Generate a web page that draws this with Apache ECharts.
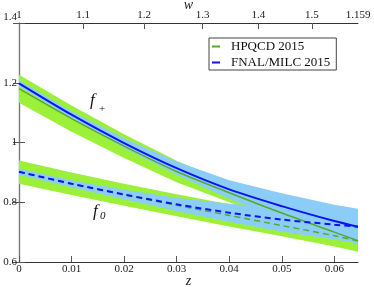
<!DOCTYPE html>
<html><head><meta charset="utf-8">
<script src="https://cdn.jsdelivr.net/npm/echarts@6/dist/echarts.min.js"></script>
<style>html,body{margin:0;padding:0;background:#fff}#c{width:374px;height:287px}</style>
</head><body><div id="c"></div>
<script>
// z grid points
var zVals = [0, 0.01, 0.02, 0.03, 0.04, 0.05, 0.06, 0.0645];
// HPQCD 2015 f+
var hpFpCenter = [1.180, 1.080, 0.988, 0.903, 0.832, 0.764, 0.700, 0.671];
var hpFpUpper  = [1.227, 1.124, 1.028, 0.939, 0.864, 0.792, 0.724, 0.693];
var hpFpLower  = [1.133, 1.036, 0.948, 0.867, 0.800, 0.736, 0.676, 0.649];
// HPQCD 2015 f0
var hpF0Center = [0.901, 0.862, 0.825, 0.790, 0.756, 0.722, 0.688, 0.670];
var hpF0Upper  = [0.940, 0.900, 0.862, 0.827, 0.793, 0.758, 0.724, 0.706];
var hpF0Lower  = [0.862, 0.824, 0.788, 0.753, 0.719, 0.686, 0.652, 0.634];
// FNAL/MILC 2015 f+
var fnFpCenter = [1.198, 1.093, 0.998, 0.914, 0.843, 0.787, 0.737, 0.718];
var fnFpUpper  = [1.208, 1.105, 1.014, 0.936, 0.874, 0.830, 0.792, 0.778];
var fnFpLower  = [1.188, 1.081, 0.982, 0.892, 0.812, 0.746, 0.684, 0.662];
// FNAL/MILC 2015 f0
var fnF0Center = [0.902, 0.862, 0.826, 0.793, 0.765, 0.742, 0.725, 0.718];
var fnF0Upper  = [0.912, 0.874, 0.842, 0.815, 0.795, 0.782, 0.775, 0.774];
var fnF0Lower  = [0.892, 0.850, 0.810, 0.771, 0.735, 0.702, 0.675, 0.662];

// axis ticks
var zTicks = [0, 0.01, 0.02, 0.03, 0.04, 0.05, 0.06];
var yTicks = [0.6, 0.8, 1.0, 1.2, 1.4];
var wTicks = [1, 1.1, 1.2, 1.3, 1.4, 1.5, 1.59];
var wLabels = ['1', '1.1', '1.2', '1.3', '1.4', '1.5', '1.159'];
var zMax = 0.0645;

function wToZ(w) { var a = Math.sqrt(w + 1), b = Math.SQRT2; return (a - b) / (a + b); }
var wPos = wTicks.map(function (w, i) { return i === wTicks.length - 1 ? zMax : +wToZ(w).toFixed(6); });

function pairs(ys) { return zVals.map(function (z, i) { return [z, ys[i]]; }); }

var GREEN_BAND = '#9cf03a', BLUE_BAND = '#8ccdf7', GREEN_LINE = '#52ab2c', BLUE_LINE = '#0a14f0';
var serif = '"Liberation Serif", "DejaVu Serif", serif';

function band(id, up, lo, color) {
  return {
    name: id, type: 'custom', coordinateSystem: 'cartesian2d', silent: true, z: 1,
    data: [[0, lo[0]]],
    renderItem: function (params, api) {
      var pts = [];
      for (var i = 0; i < zVals.length; i++) pts.push(api.coord([zVals[i], up[i]]));
      for (var j = zVals.length - 1; j >= 0; j--) pts.push(api.coord([zVals[j], lo[j]]));
      return { type: 'polygon', shape: { points: pts }, style: { fill: color, stroke: null } };
    }
  };
}
function line(name, ys, color, width, dashed) {
  return { name: name, type: 'line', data: pairs(ys), symbol: 'none', smooth: 0.3, color: color,
    lineStyle: { color: color, width: width, type: dashed ? [6, 4] : 'solid' }, z: 3 };
}

var series = [
  band('gfp', hpFpUpper, hpFpLower, GREEN_BAND),
  band('gf0', hpF0Upper, hpF0Lower, GREEN_BAND),
  band('bfp', fnFpUpper, fnFpLower, BLUE_BAND),
  band('bf0', fnF0Upper, fnF0Lower, BLUE_BAND),
  line('HPQCD 2015', hpFpCenter, GREEN_LINE, 1.5, false),
  line('HPQCD f0', hpF0Center, GREEN_LINE, 1.5, true),
  line('FNAL/MILC 2015', fnFpCenter, BLUE_LINE, 2, false),
  line('FNAL f0', fnF0Center, BLUE_LINE, 2, true)
];

var axisLine = { show: true, lineStyle: { color: '#333', width: 1 } };
var sideLine = { show: true, lineStyle: { color: '#777', width: 1.2 } };
var labelStyle = { fontFamily: serif, fontSize: 11, color: '#222' };
var nameStyle = { fontFamily: serif, fontStyle: 'italic', fontSize: 14, color: '#222', verticalAlign: 'middle' };

var chart = echarts.init(document.getElementById('c'), null, { renderer: 'canvas' });
chart.setOption({
  animation: false,
  backgroundColor: '#fff',
  grid: { left: 19, right: 16, top: 23, bottom: 25, outerBoundsMode: 'none', containLabel: false },
  legend: {
    data: [{ name: 'HPQCD 2015', itemStyle: { color: GREEN_LINE } }, { name: 'FNAL/MILC 2015', itemStyle: { color: BLUE_LINE } }],
    orient: 'vertical', left: 209, top: 38, icon: 'rect', itemWidth: 8, itemHeight: 2, itemGap: 3,
    padding: [2, 6, 1, 3], borderColor: '#444', borderWidth: 1, backgroundColor: '#fff',
    textStyle: { fontFamily: serif, fontSize: 13, color: '#111', padding: [0, 0, 0, 6] }
  },
  xAxis: [
    { type: 'value', position: 'bottom', min: 0, max: zMax,
      axisLine: axisLine, splitLine: { show: false },
      axisTick: { inside: true, length: 6, customValues: zTicks, lineStyle: { color: '#555' } },
      axisLabel: Object.assign({ customValues: zTicks, margin: 2, formatter: function (v) { return String(+v.toFixed(2)); } }, labelStyle),
      name: 'z', nameLocation: 'middle', nameGap: 19, nameMoveOverlap: false, nameTextStyle: nameStyle },
    { type: 'value', position: 'top', min: 0, max: zMax,
      axisLine: axisLine, splitLine: { show: false },
      axisTick: { inside: true, length: 6, customValues: wPos.slice(1, 6), lineStyle: { color: '#555' } },
      axisLabel: Object.assign({ customValues: wPos, margin: 2, formatter: function (v) {
        var best = 0; for (var i = 0; i < wPos.length; i++) { if (Math.abs(wPos[i] - v) < Math.abs(wPos[best] - v)) best = i; } return wLabels[best]; } }, labelStyle),
      name: 'w', nameLocation: 'middle', nameGap: 18, nameMoveOverlap: false, nameTextStyle: nameStyle }
  ],
  yAxis: [
    { type: 'value', position: 'left', min: 0.6, max: 1.4, interval: 0.2,
      axisLine: sideLine, splitLine: { show: false },
      axisTick: { inside: true, length: 6, lineStyle: { color: '#555' } },
      axisLabel: Object.assign({ margin: 2, hideOverlap: false, verticalAlignMaxLabel: 'bottom', formatter: function (v) { return String(+v.toFixed(1)); } }, labelStyle) },
    { type: 'value', position: 'right', min: 0.6, max: 1.4, interval: 0.2,
      axisLine: sideLine, splitLine: { show: false },
      axisTick: { inside: true, length: 6, lineStyle: { color: '#555' } },
      axisLabel: { show: false } }
  ],
  graphic: [
    { type: 'text', left: 90, top: 92, style: { text: 'f', font: 'italic 17px ' + serif, fill: '#111' } },
    { type: 'text', left: 99, top: 104, style: { text: '+', font: '11px ' + serif, fill: '#111' } },
    { type: 'text', left: 93, top: 203, style: { text: 'f', font: 'italic 17px ' + serif, fill: '#111' } },
    { type: 'text', left: 100, top: 211, style: { text: '0', font: 'italic 11px ' + serif, fill: '#111' } }
  ],
  series: series
});
</script></body></html>
